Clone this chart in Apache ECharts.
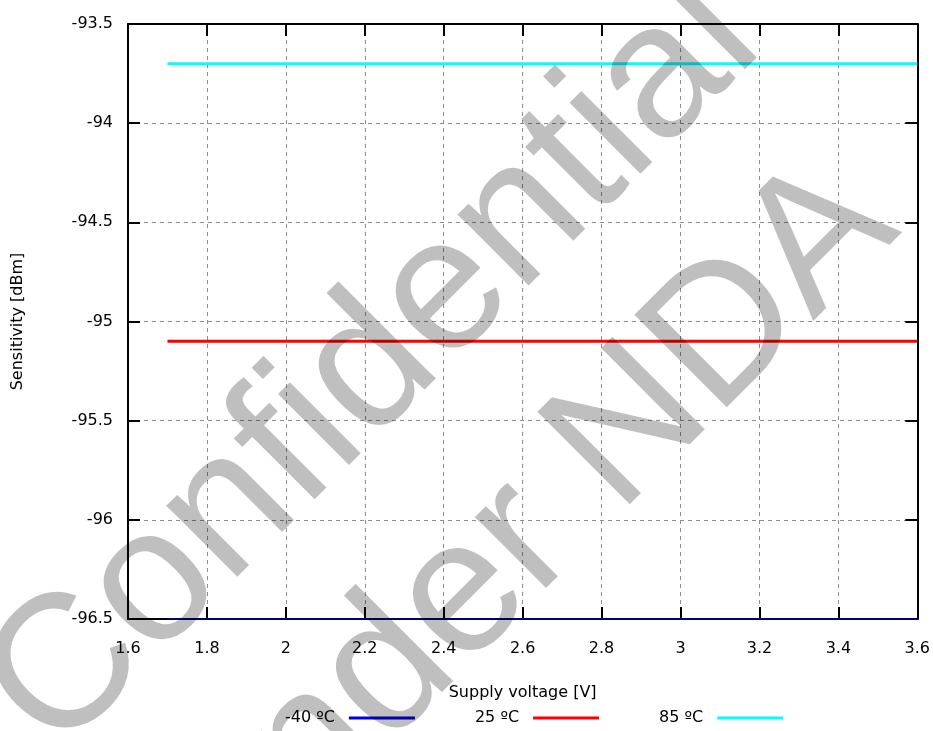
<!DOCTYPE html>
<html>
<head>
<meta charset="utf-8">
<script src="https://cdn.jsdelivr.net/npm/echarts@6/dist/echarts.min.js"></script>
<style>
    html, body { margin: 0; padding: 0; background: #fff; }
    #chart { width: 933px; height: 731px; }
</style>
</head>
<body>
<div id="chart"></div>
<script>
// supply voltage [V]
var voltage = [1.7, 2.0, 2.5, 3.0, 3.3, 3.6];
// sensitivity [dBm] per temperature
var sens_m40 = [-96.5, -96.5, -96.5, -96.5, -96.5, -96.5];
var sens_25 = [-95.1, -95.1, -95.1, -95.1, -95.1, -95.1];
var sens_85 = [-93.7, -93.7, -93.7, -93.7, -93.7, -93.7];
var names = ['-40 ºC', '25 ºC', '85 ºC'];
var colors = ['#0000e6', '#ff0000', '#00ffff'];
var widths = [1.2, 3, 3];

var FONT = 'DejaVu Sans';

function pairs(ys) {
    var out = [];
    for (var i = 0; i < voltage.length; i++) {
        out.push([voltage[i], ys[i]]);
    }
    return out;
}

function mkSeries(idx, ys) {
    return {
        name: names[idx],
        type: 'line',
        data: pairs(ys),
        symbol: 'none',
        clip: false,
        z: 5,
        lineStyle: { width: widths[idx], color: colors[idx] },
        itemStyle: { color: colors[idx] }
    };
}

var myChart = echarts.init(document.getElementById('chart'));

var tick = { show: true, inside: true, length: 12, lineStyle: { color: '#000', width: 2 } };
var axLine = { show: true, onZero: false, lineStyle: { color: '#000', width: 2 } };
var split = { show: true, lineStyle: { color: '#8e8e8e', width: 1, type: [4, 4] } };

// watermark text
function mark(txt, x, y) {
    return {
        type: 'text',
        x: x,
        y: y,
        rotation: Math.PI / 4,
        z: 100,
        silent: true,
        style: {
            text: txt,
            fontFamily: 'Liberation Sans',
            fontSize: 190,
            fill: 'rgba(0,0,0,0.25)',
            align: 'center',
            verticalAlign: 'middle'
        }
    };
}

var option = {
    backgroundColor: '#fff',
    animation: false,
    grid: { left: 128, right: 15, top: 24, bottom: 112 },
    legend: {
        data: names,
        left: 280,
        top: 705,
        align: 'right',
        icon: 'rect',
        itemWidth: 66,
        itemHeight: 3,
        itemGap: 60,
        textStyle: { fontFamily: FONT, fontSize: 16, color: '#000', padding: [0, 9, 0, 0] }
    },
    xAxis: [{
        type: 'value',
        min: 1.6,
        max: 3.6,
        interval: 0.2,
        name: 'Supply voltage [V]',
        nameLocation: 'middle',
        nameGap: 66,
        nameTextStyle: { fontFamily: FONT, fontSize: 16, color: '#000' },
        axisLine: axLine,
        axisTick: tick,
        splitLine: split,
        axisLabel: {
            fontFamily: FONT, fontSize: 16, color: '#000', margin: 22,
            formatter: function (v) { return String(Math.round(v * 10) / 10); }
        }
    }, {
        type: 'value',
        position: 'top',
        min: 1.6,
        max: 3.6,
        interval: 0.2,
        axisLine: axLine,
        axisTick: tick,
        splitLine: { show: false },
        axisLabel: { show: false }
    }],
    yAxis: [{
        type: 'value',
        min: -96.5,
        max: -93.5,
        interval: 0.5,
        name: 'Sensitivity [dBm]',
        nameLocation: 'middle',
        nameGap: 102,
        nameTextStyle: { fontFamily: FONT, fontSize: 16, color: '#000' },
        axisLine: axLine,
        axisTick: tick,
        splitLine: split,
        axisLabel: { fontFamily: FONT, fontSize: 16, color: '#000', margin: 15 }
    }, {
        type: 'value',
        position: 'right',
        min: -96.5,
        max: -93.5,
        interval: 0.5,
        axisLine: axLine,
        axisTick: tick,
        splitLine: { show: false },
        axisLabel: { show: false }
    }],
    series: [
        mkSeries(0, sens_m40),
        mkSeries(1, sens_25),
        mkSeries(2, sens_85)
    ],
    graphic: [
        mark('Confidential', 374, 366),
        mark('Under NDA', 522, 538)
    ]
};
myChart.setOption(option);
</script>
</body>
</html>
